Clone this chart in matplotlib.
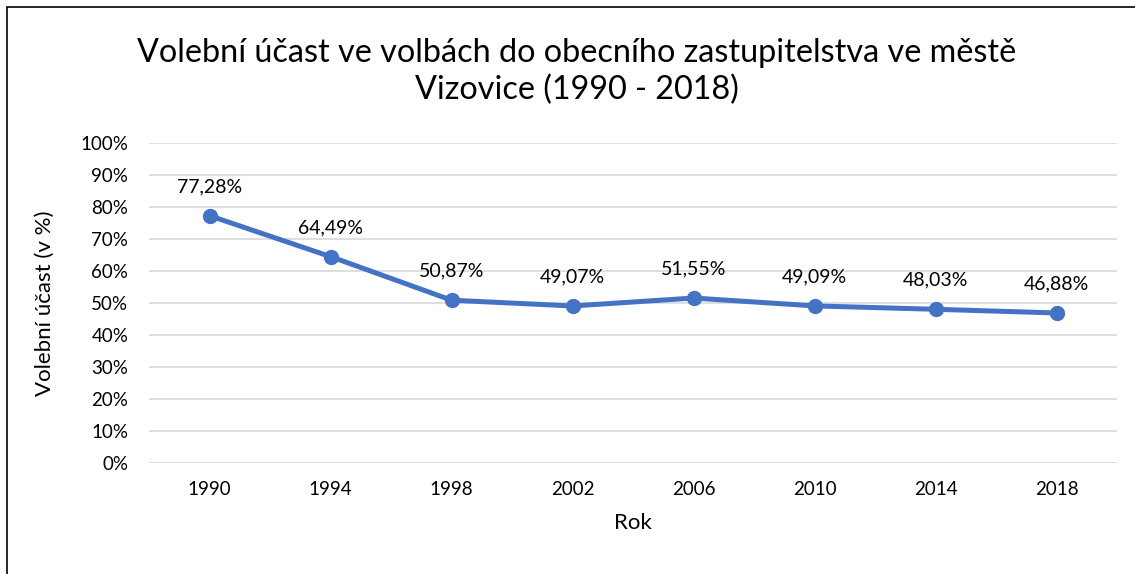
import matplotlib
matplotlib.use("Agg")
import matplotlib.pyplot as plt
from matplotlib.patches import Rectangle
from matplotlib.ticker import FuncFormatter

plt.rcParams['font.family'] = ['Lato', 'DejaVu Sans']

years = ["1990", "1994", "1998", "2002", "2006", "2010", "2014", "2018"]
turnout = [77.28, 64.49, 50.87, 49.07, 51.55, 49.09, 48.03, 46.88]
labels = ["77,28%", "64,49%", "50,87%", "49,07%", "51,55%", "49,09%", "48,03%", "46,88%"]

blue = "#4472C4"

fig = plt.figure(figsize=(11.35, 5.74), dpi=100)
ax = fig.add_axes([0.1313, 0.1934, 0.8529, 0.5575])

x = list(range(len(years)))
ax.plot(x, turnout, color=blue, lw=3.6, marker="o", ms=10, solid_capstyle="round")
for xi, v, t in zip(x, turnout, labels):
    ax.annotate(t, (xi, v), xytext=(0, 21), textcoords="offset points",
                ha="center", va="center", fontsize=14, color="#000000")

ax.set_xlim(-0.5, len(years) - 0.5)
ax.set_ylim(0, 100)
ax.set_yticks(range(0, 101, 10))
ax.yaxis.set_major_formatter(FuncFormatter(lambda v, p: f"{int(v)}%"))
ax.set_xticks(x)
ax.set_xticklabels(years)
ax.grid(axis="y", color="#d9d9d9", lw=1.2)
ax.set_axisbelow(True)
for s in ax.spines.values():
    s.set_visible(False)
ax.tick_params(length=0, labelsize=13.5, colors="#000000")
ax.tick_params(axis="y", pad=15)
ax.tick_params(axis="x", pad=13)
ax.set_xlabel("Rok", fontsize=16, labelpad=11)
ax.set_ylabel("Volební účast (v %)", fontsize=16, labelpad=18)

fig.text(0.508, 0.875, "Volební účast ve volbách do obecního zastupitelstva ve městě\nVizovice (1990 - 2018)",
         ha="center", va="center", fontsize=23.3, linespacing=1.3)

fig.patches.append(Rectangle((7 / 1135, -0.1), 1.2, 1 - 7 / 574 + 0.1,
                             transform=fig.transFigure, fill=False,
                             edgecolor="#000000", lw=1.2))

fig.savefig("out.png", dpi=100)
